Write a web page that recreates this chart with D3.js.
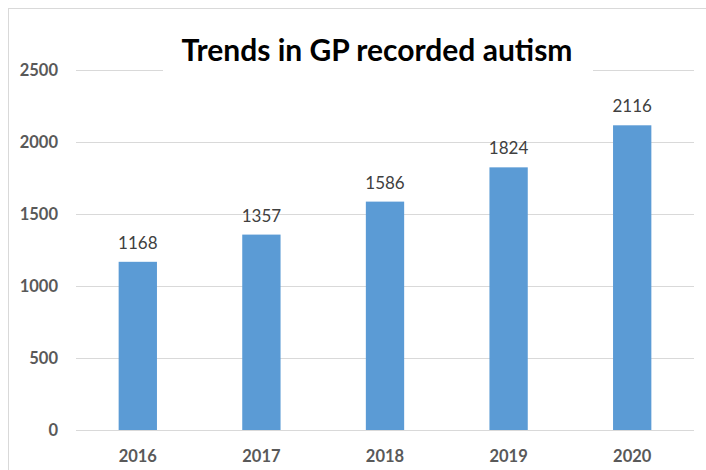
<!DOCTYPE html>
<html><head><meta charset="utf-8">
<script src="https://cdn.jsdelivr.net/npm/d3@7"></script>
<style>body{margin:0;background:#fff}svg{display:block}</style>
</head><body>
<svg id="c" width="706" height="470"></svg>
<script>
const categories = ["2016","2017","2018","2019","2020"];
const values = [1168,1357,1586,1824,2116];
const yTicks = [0,500,1000,1500,2000,2500];
const title = "Trends in GP recorded autism";

const svg = d3.select("#c");
const font = "Lato, 'Open Sans', sans-serif";
svg.append("rect").attr("x",8.5).attr("y",8.5).attr("width",720).attr("height",480)
  .attr("fill","#fff").attr("stroke","#d9d9d9").attr("stroke-width",1);

const x = d3.scaleBand().domain(categories).range([76,694]).paddingInner(0.69).paddingOuter(0.345);
const y = d3.scaleLinear().domain([0,2500]).range([430,70]);

const grid = svg.append("g");
grid.selectAll("line").data(yTicks).join("line")
  .attr("x1",76).attr("x2",694).attr("y1",d=>Math.round(y(d))+0.5).attr("y2",d=>Math.round(y(d))+0.5)
  .attr("stroke","#d9d9d9").attr("stroke-width",1);

const yAxis = d3.axisLeft(y).tickValues(yTicks).tickFormat(d3.format("d")).tickSize(0).tickPadding(0);
const ya = svg.append("g").attr("transform","translate(58,0)").call(yAxis);
ya.select(".domain").remove();
ya.selectAll("text").attr("font-family",font).attr("font-size",16.5).attr("font-weight","bold").attr("fill","#595959").attr("dy","0.35em");

svg.selectAll("rect.bar").data(values).join("rect").attr("class","bar")
  .attr("x",(d,i)=>x(categories[i])).attr("width",x.bandwidth())
  .attr("y",d=>y(d)).attr("height",d=>y(0)-y(d)).attr("fill","#5b9bd5");

svg.selectAll("text.lab").data(values).join("text").attr("class","lab")
  .attr("x",(d,i)=>x(categories[i])+x.bandwidth()/2).attr("y",d=>y(d)-13)
  .attr("text-anchor","middle").attr("font-family",font).attr("font-size",17).attr("fill","#404040").text(d=>d);

const xAxis = d3.axisBottom(x).tickSize(0).tickPadding(0);
const xa = svg.append("g").attr("transform","translate(0,456)").call(xAxis);
xa.select(".domain").remove();
xa.selectAll("text").attr("font-family",font).attr("font-size",16.5).attr("font-weight","bold").attr("fill","#595959").attr("dy","0.35em");

svg.append("rect").attr("x",163).attr("y",30).attr("width",430).attr("height",50).attr("fill","#fff");
svg.append("text").attr("x",377).attr("y",61).attr("text-anchor","middle").attr("font-family",font)
  .attr("font-size",30).attr("font-weight","bold").attr("fill","#000").text(title);
</script>
</body></html>
